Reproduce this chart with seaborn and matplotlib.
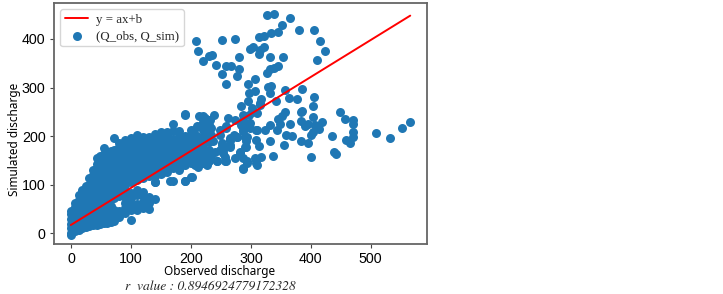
import matplotlib
matplotlib.use('Agg')
import matplotlib.pyplot as plt
import pandas as pd
import seaborn as sns

# dense part of the cloud, read column by column
col_obs = [0, 6, 12, 18, 24, 30, 36, 42, 48, 54, 60, 66, 72, 80, 90, 100, 110, 120, 130, 140, 150, 160, 170, 180, 190, 200, 210, 220, 230]
col_sim = [
    [-3, 0, 10, 20, 30, 40, 46],
    [4, 14, 24, 34, 44, 54, 62],
    [7, 16, 26, 38, 48, 58, 68, 78],
    [10, 20, 30, 44, 54, 64, 74, 84, 90],
    [13, 22, 32, 48, 58, 68, 78, 88, 98],
    [15, 24, 36, 50, 60, 70, 80, 90, 100, 113],
    [17, 26, 41, 51, 61, 71, 81, 91, 101, 111, 121, 130],
    [18, 28, 42, 52, 62, 72, 82, 92, 102, 112, 122, 132, 142, 155],
    [20, 30, 44, 54, 64, 74, 84, 94, 104, 114, 124, 134, 144, 154, 160],
    [21, 32, 44, 54, 64, 74, 84, 94, 104, 114, 124, 134, 144, 154, 164, 175],
    [22, 35, 45, 55, 65, 75, 85, 95, 105, 115, 125, 135, 145, 155, 165],
    [24, 36, 46, 56, 70, 80, 90, 100, 110, 120, 130, 140, 150, 160, 170],
    [26, 38, 48, 72, 82, 92, 102, 112, 122, 132, 142, 152, 162, 172, 196],
    [33, 46, 76, 88, 98, 108, 118, 128, 138, 148, 158, 168, 178, 186],
    [42, 52, 62, 74, 88, 100, 110, 120, 130, 140, 150, 160, 170, 180, 192],
    [27, 48, 60, 72, 82, 106, 116, 126, 136, 146, 156, 166, 176, 186, 196],
    [48, 60, 79, 90, 110, 120, 130, 140, 150, 160, 170, 180, 190, 202],
    [52, 64, 76, 86, 114, 124, 134, 144, 154, 164, 174, 184, 194, 198],
    [50, 62, 74, 118, 128, 138, 148, 158, 168, 178, 188, 198],
    [70, 106, 118, 128, 138, 148, 158, 168, 178, 188, 198, 205],
    [122, 132, 142, 152, 162, 172, 182, 192, 202, 208],
    [126, 136, 146, 156, 166, 176, 186, 196, 203, 208],
    [107, 135, 145, 155, 165, 175, 185, 195, 210, 225],
    [130, 140, 150, 160, 170, 180, 190, 200, 210],
    [108, 140, 151, 161, 171, 181, 191, 200, 245],
    [115, 145, 155, 165, 175, 185, 195, 205, 212],
    [140, 150, 162, 174, 186, 200, 220],
    [145, 158, 170, 182, 196, 212, 230, 242],
    [148, 160, 172, 188, 205, 222, 233],
]

# scattered points outside the dense cloud
obs_loose = [327, 338, 366, 351, 345, 334, 321, 314, 380, 405, 416, 423, 410, 208, 252, 273, 212, 220, 230, 235,
             241, 259, 267, 280, 280, 277, 251, 259, 298, 304, 322, 315, 314, 332, 353, 345, 338, 332, 326, 306,
             295, 334, 329, 332, 306, 297, 356, 386, 364, 377, 405, 403, 341, 317, 315, 295, 284, 301, 310, 287,
             274, 262, 239, 213, 189, 224, 449, 457, 471, 471, 566, 552, 509, 533, 470, 471, 458, 466, 436, 404,
             418, 414, 401, 395, 383, 369, 358, 366, 386, 383, 356, 351, 345, 384, 390, 332, 323, 310, 297, 287,
             276, 308, 314, 291, 332, 355, 343, 349, 407, 396, 404, 438, 442, 401, 336, 317, 310, 308, 287, 293,
             282, 204, 201, 187, 179, 198, 215, 223, 231, 226, 234, 220, 209, 237, 248, 259, 276, 265, 287, 298,
             293, 290, 282, 287, 293, 287, 309, 307, 309, 273, 259, 243, 226, 212, 206, 220, 231, 248, 257, 234,
             198, 187, 170, 181, 153, 148, 159, 139, 165, 189, 201, 265, 254, 215, 229, 243, 257, 206, 254, 240,
             265, 251, 220, 229, 226, 234, 259, 271, 287, 296, 301, 315, 296, 298, 284, 248, 251, 265, 265, 290, 291]
sim_loose = [450, 452, 443, 428, 415, 413, 407, 404, 418, 418, 395, 375, 356, 395, 397, 399, 375, 354, 364, 367,
             347, 345, 345, 363, 338, 324, 327, 308, 380, 384, 384, 377, 370, 363, 363, 345, 340, 338, 329, 318,
             308, 304, 302, 288, 292, 288, 294, 297, 279, 277, 281, 263, 272, 277, 268, 272, 263, 258, 247, 244,
             233, 238, 244, 242, 244, 238, 249, 235, 233, 226, 229, 217, 206, 197, 209, 199, 192, 185, 201, 240,
             229, 215, 203, 185, 189, 201, 203, 226, 251, 249, 249, 242, 235, 231, 220, 222, 213, 213, 224, 210,
             199, 192, 180, 178, 189, 182, 213, 226, 223, 226, 209, 168, 164, 158, 160, 158, 141, 151, 132, 148,
             165, 213, 202, 196, 185, 185, 220, 230, 233, 213, 202, 199, 185, 189, 213, 220, 199, 192, 213, 227,
             199, 178, 168, 154, 144, 134, 213, 154, 144, 154, 148, 148, 141, 137, 151, 165, 168, 172, 158, 154,
             158, 161, 141, 137, 127, 130, 141, 106, 108, 108, 115, 178, 172, 144, 148, 148, 148, 141, 165, 168,
             192, 182, 226, 223, 209, 216, 216, 202, 233, 243, 250, 264, 223, 216, 223, 202, 185, 182, 196, 199, 189]

fit_obs = [-1, 566]
fit_sim = [17, 448]

x_ticks = [0, 100, 200, 300, 400, 500]
y_ticks = [0, 100, 200, 300, 400]

obs = [x for x, col in zip(col_obs, col_sim) for _ in col] + obs_loose
sim = [y for col in col_sim for y in col] + sim_loose
df = pd.DataFrame({'obs': obs, 'sim': sim})
fit = pd.DataFrame({'obs': fit_obs, 'sim': fit_sim})

sns.set_style('white')
plt.rcParams['font.family'] = ['Liberation Sans', 'DejaVu Sans']

fig = plt.figure(figsize=(7.23, 2.94), dpi=100)
ax = fig.add_axes([54 / 723, 1 - 244 / 294, 373 / 723, 241 / 294])

sns.lineplot(data=fit, x='obs', y='sim', color='red', linewidth=1.4, zorder=3, ax=ax, label='y = ax+b')
sns.scatterplot(data=df, x='obs', y='sim', color='#1f77b4', s=42, linewidth=0, alpha=1, ax=ax, label='(Q_obs, Q_sim)')

ax.set_xlim(-29, 594)
ax.set_ylim(-22, 474)
ax.set_xticks(x_ticks)
ax.set_yticks(y_ticks)
ax.tick_params(axis='both', length=3, width=0.8, color='#444444', labelsize=10.3, labelcolor='black', pad=3,
               bottom=True, left=True)
for s in ax.spines.values():
    s.set_color('#666666')
    s.set_linewidth(1.3)

ax.set_xlabel('Observed discharge', family='Noto Sans', fontsize=8.5, color='black')
ax.set_ylabel('Simulated discharge', family='Noto Sans', fontsize=8.5, color='black')
ax.xaxis.set_label_coords((220 - 54) / 373, -21 / 241)
ax.yaxis.set_label_coords(-33 / 373, (244 - 139) / 241)
ax.legend(loc='upper left', prop={'family': 'Liberation Serif', 'size': 9.3}, frameon=True, borderaxespad=0.5,
          handlelength=1.8, handletextpad=0.6, borderpad=0.35, labelspacing=0.3)

fig.text(210 / 723, 1 - 287 / 294, 'r  value : 0.8946924779172328', family='STIXGeneral', style='italic',
         ha='center', va='center', fontsize=9.7)

fig.savefig('out.png', dpi=100)
